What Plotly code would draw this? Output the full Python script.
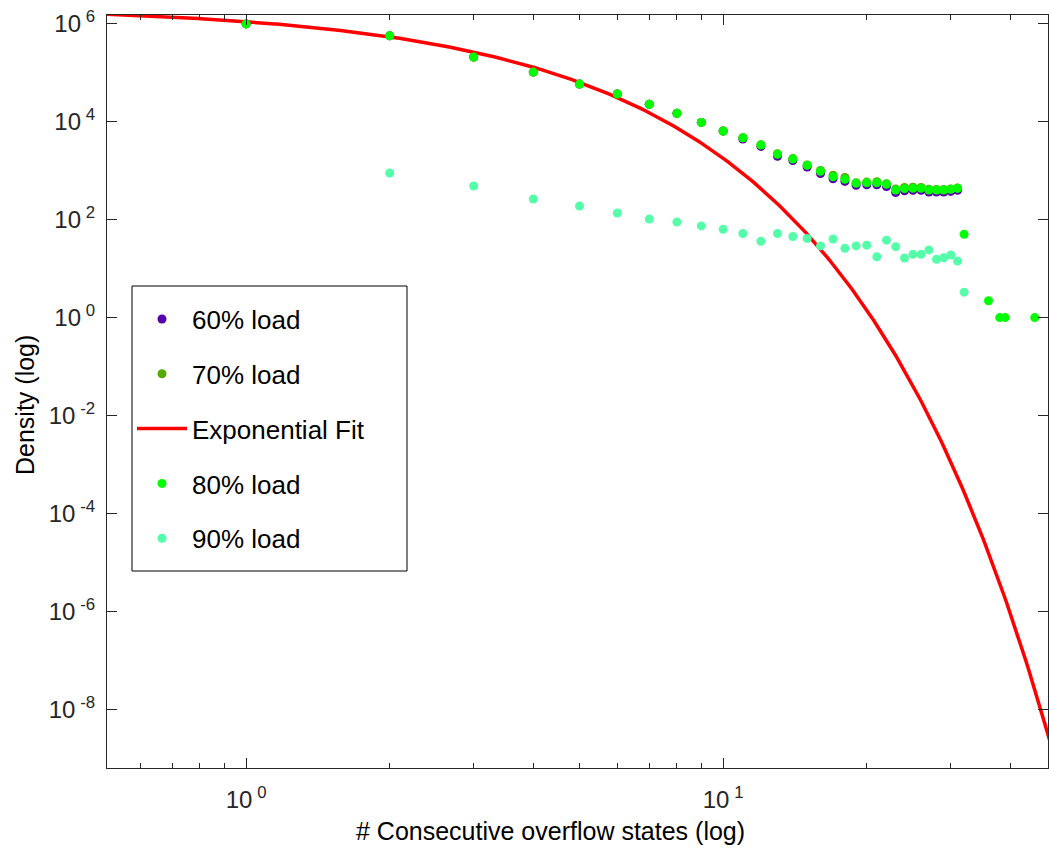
import numpy as np
import plotly.graph_objects as go

# ---------------- data ----------------
x_main = list(range(1, 32))
x_tail = [32, 36, 38, 39, 45]

load80 = [9.8e5, 5.6e5, 2.07e5, 1.02e5, 5.8e4, 3.64e4, 2.24e4, 1.47e4, 9.6e3, 6.4e3,
          4670, 3310, 2140, 1720, 1280, 963, 747, 661, 548, 564,
          564, 522, 400, 426, 434, 434, 400, 400, 400, 413, 434]
load80_tail = [50, 2.2, 1, 1, 1]

load60 = [9.8e5, 5.6e5, 2.07e5, 1.02e5, 5.8e4, 3.64e4, 2.24e4, 1.47e4, 9.6e3, 6.4e3,
          4400, 3100, 1950, 1600, 1180, 870, 680, 600, 500, 510,
          510, 470, 355, 385, 395, 395, 365, 365, 365, 375, 395]

load70 = [9.8e5, 5.6e5, 2.07e5, 1.02e5, 5.8e4, 3.64e4, 2.24e4, 1.47e4, 9.6e3, 6.4e3,
          4670, 3350, 2200, 1750, 1300, 1000, 800, 720, 560, 580,
          590, 540, 420, 450, 455, 450, 415, 410, 410, 420, 440]

x90 = list(range(2, 33))
load90 = [890, 483, 262, 189, 136, 102, 89, 74, 63,
          52, 36, 52, 45, 41, 29, 40, 26, 29, 30,
          17.4, 38, 28, 16.4, 19.5, 19.5, 24, 15.4, 16.6, 18.9, 14.2, 3.3]

# exponential fit parameters y = A * exp(-b * x)
fit_A = 2.22e6
fit_b = 0.713
fit_x_range = (0.51, 48.3)

T = "\u2009"
y_tickvals = [1e6, 1e4, 1e2, 1e0, 1e-2, 1e-4, 1e-6, 1e-8]
y_ticktext = ["10" + T + "<sup>6</sup>", "10" + T + "<sup>4</sup>", "10" + T + "<sup>2</sup>",
              "10" + T + "<sup>0</sup>", "10" + T + "<sup>-2</sup>", "10" + T + "<sup>-4</sup>",
              "10" + T + "<sup>-6</sup>", "10" + T + "<sup>-8</sup>"]
x_tickvals = [1, 10]
x_ticktext = ["10" + T + "<sup>0</sup>", "10" + T + "<sup>1</sup>"]
x_minor = [0.6, 0.7, 0.8, 0.9, 2, 3, 4, 5, 6, 7, 8, 9, 20, 30, 40]

# ---------------- figure ----------------
C60 = "rgb(85,0,170)"
C70 = "rgb(85,170,0)"
C80 = "rgb(0,255,0)"
C90 = "rgb(85,255,170)"
CFIT = "rgb(255,0,0)"
AX = "#262626"
MS = 9

W, H = 1049, 852
ML, MR, MT, MB = 107, 1, 15, 84
PW, PH = W - ML - MR, H - MT - MB


def px_x(p):
    return (p - ML) / PW


def px_y(p):
    return 1 - (p - MT) / PH


fit_x = np.geomspace(fit_x_range[0], fit_x_range[1], 400)
fit_y = fit_A * np.exp(-fit_b * fit_x)

fig = go.Figure()
fig.add_trace(go.Scatter(x=x_main, y=load60, mode="markers", name="60% load",
                         legendgroup="a", marker=dict(color=C60, size=MS)))
fig.add_trace(go.Scatter(x=x_main, y=load70, mode="markers", name="70% load",
                         legendgroup="b", marker=dict(color=C70, size=MS)))
fig.add_trace(go.Scatter(x=fit_x, y=fit_y, mode="lines", name="Exponential Fit",
                         legendgroup="c", line=dict(color=CFIT, width=3.5)))
fig.add_trace(go.Scatter(x=x_main + x_tail, y=load80 + load80_tail, mode="markers",
                         name="80% load", legendgroup="d",
                         marker=dict(color=C80, size=MS)))
fig.add_trace(go.Scatter(x=x90, y=load90, mode="markers", name="90% load",
                         legendgroup="e", marker=dict(color=C90, size=MS)))

FONT = "Liberation Sans, Arial, sans-serif"

fig.update_layout(
    width=W, height=H,
    margin=dict(l=ML, r=MR, t=MT, b=MB),
    paper_bgcolor="white", plot_bgcolor="white",
    font=dict(family=FONT, color=AX),
    showlegend=True,
    legend=dict(x=px_x(132), y=px_y(295.6), xanchor="left", yanchor="top",
                bgcolor="rgba(0,0,0,0)", borderwidth=0,
                font=dict(size=26, color="black", family=FONT),
                tracegroupgap=18, traceorder="grouped",
                itemwidth=50),
    shapes=[dict(type="rect", xref="paper", yref="paper",
                 x0=px_x(132), x1=px_x(407), y0=px_y(571), y1=px_y(286),
                 line=dict(color="black", width=1), fillcolor="white", layer="above")],
    xaxis=dict(type="log", range=[np.log10(0.511), 1.681],
               showgrid=False, zeroline=False,
               showline=True, linecolor=AX, linewidth=1, mirror="ticks",
               ticks="inside", ticklen=10, tickcolor=AX, tickwidth=1,
               tickvals=x_tickvals, ticktext=x_ticktext, ticklabelstandoff=10,
               tickfont=dict(size=24, color=AX),
               minor=dict(ticks="inside", ticklen=5, tickcolor=AX, tickwidth=1,
                          tickvals=x_minor, showgrid=False)),
    yaxis=dict(type="log", range=[-9.19, 6.173],
               showgrid=False, zeroline=False,
               showline=True, linecolor=AX, linewidth=1, mirror="ticks",
               ticks="inside", ticklen=10, tickcolor=AX, tickwidth=1,
               tickvals=y_tickvals, ticktext=y_ticktext, ticklabelstandoff=6,
               tickfont=dict(size=24, color=AX)),
    annotations=[
        dict(text="# Consecutive overflow states (log)", xref="paper", yref="paper",
             x=px_x(550), y=px_y(831), xanchor="center", yanchor="middle", showarrow=False,
             font=dict(size=25, color="black", family=FONT)),
        dict(text="Density (log)", xref="paper", yref="paper",
             x=px_x(25), y=px_y(405), xanchor="center", yanchor="middle", showarrow=False,
             textangle=-90, font=dict(size=25, color="black", family=FONT)),
    ],
)

fig.write_html("out.html")
